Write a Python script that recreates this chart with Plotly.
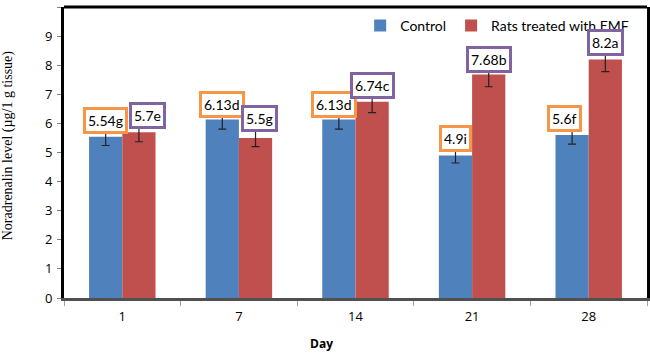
import plotly.graph_objects as go

days = ["1", "7", "14", "21", "28"]
control = [5.54, 6.13, 6.13, 4.90, 5.60]
emf = [5.70, 5.50, 6.74, 7.68, 8.20]
control_err = [0.30, 0.33, 0.33, 0.26, 0.31]
emf_err = [0.33, 0.30, 0.37, 0.42, 0.42]
control_letters = ["g", "d", "d", "i", "f"]
emf_letters = ["e", "g", "c", "b", "a"]
y_ticks = list(range(0, 11))

BLUE = "#4F81BD"
RED = "#C0504D"
ORANGE = "#F79646"
PURPLE = "#8064A2"
SANS = "Open Sans"
LBL = "Lato"

fig = go.Figure()
fig.add_trace(go.Bar(
    x=days, y=control, name="Control", marker=dict(color=BLUE, line=dict(width=0)),
    error_y=dict(type="data", array=control_err, color="#222222", thickness=1.2, width=4),
))
fig.add_trace(go.Bar(
    x=days, y=emf, name="Rats treated with EMF", marker=dict(color=RED, line=dict(width=0)),
    error_y=dict(type="data", array=emf_err, color="#222222", thickness=1.2, width=4),
))

# label boxes (small nudges to mimic the original label placement)
ctrl_shift = [0, 0, -5, 0, -7]
emf_shift = [8, 4, 0, 0, 0]
ctrl_yshift = [3, 2, 2, 3, 3]
emf_yshift = [3, 6, 3, 2, 3]
off = 0.1435
for i, d in enumerate(days):
    fig.add_annotation(x=i - off, y=control[i], xref="x", yref="y",
                       text=f"{control[i]:g}{control_letters[i]}", showarrow=False,
                       yanchor="bottom", xshift=ctrl_shift[i], yshift=ctrl_yshift[i],
                       bgcolor="white", bordercolor=ORANGE, borderwidth=3, borderpad=2,
                       font=dict(family=LBL, size=14, color="black"))
    fig.add_annotation(x=i + off, y=emf[i], xref="x", yref="y",
                       text=f"{emf[i]:g}{emf_letters[i]}", showarrow=False,
                       yanchor="bottom", xshift=emf_shift[i], yshift=emf_yshift[i],
                       bgcolor="white", bordercolor=PURPLE, borderwidth=3, borderpad=2,
                       font=dict(family=LBL, size=14, color="black"))

fig.add_annotation(x=0.441, y=-0.155, xref="paper", yref="paper", text="<b>Day</b>",
                   showarrow=False, yanchor="middle",
                   font=dict(family=SANS, size=12, color="black"))

fig.add_annotation(x=-0.096, y=0.525, xref="paper", yref="paper",
                   text="Noradrenalin level (µg/1 g tissue)", textangle=-90,
                   showarrow=False, xanchor="center", yanchor="middle",
                   font=dict(family="Liberation Serif", size=14, color="black"))

fig.add_shape(type="line", xref="paper", yref="paper", x0=0, x1=1, y0=1, y1=1,
              line=dict(color="black", width=3))

fig.update_layout(
    width=650, height=358, autosize=False,
    margin=dict(l=64, r=3, t=7, b=60, autoexpand=False),
    paper_bgcolor="white", plot_bgcolor="white",
    barmode="group", bargap=0.43, bargroupgap=0,
    showlegend=True,
    legend=dict(orientation="h", x=0.508, y=0.99, xanchor="left", yanchor="top",
                font=dict(family=LBL, size=14, color="black"),
                bgcolor="rgba(0,0,0,0)", itemwidth=30, traceorder="normal"),
    xaxis=dict(type="category", showgrid=False, zeroline=False, automargin=False,
               showline=True, linecolor="#505050", linewidth=2.5,
               ticks="outside", tickson="boundaries", ticklen=5, tickcolor="#A0A0A0",
               ticklabelstandoff=5,
               tickfont=dict(family=SANS, size=13, color="black")),
    yaxis=dict(range=[0, 10], tickvals=y_ticks, showgrid=False, zeroline=False,
               automargin=False,
               showline=True, linecolor="black", linewidth=3, mirror=True,
               ticks="outside", ticklen=4, tickcolor="#808080",
               ticklabelstandoff=2,
               tickfont=dict(family=SANS, size=13, color="black")),
)

post = ("document.documentElement.style.margin='0';document.body.style.margin='0';"
        "document.body.style.overflow='hidden';")
fig.write_html("out.html", post_script=post,
               config={"responsive": False, "displayModeBar": False})
